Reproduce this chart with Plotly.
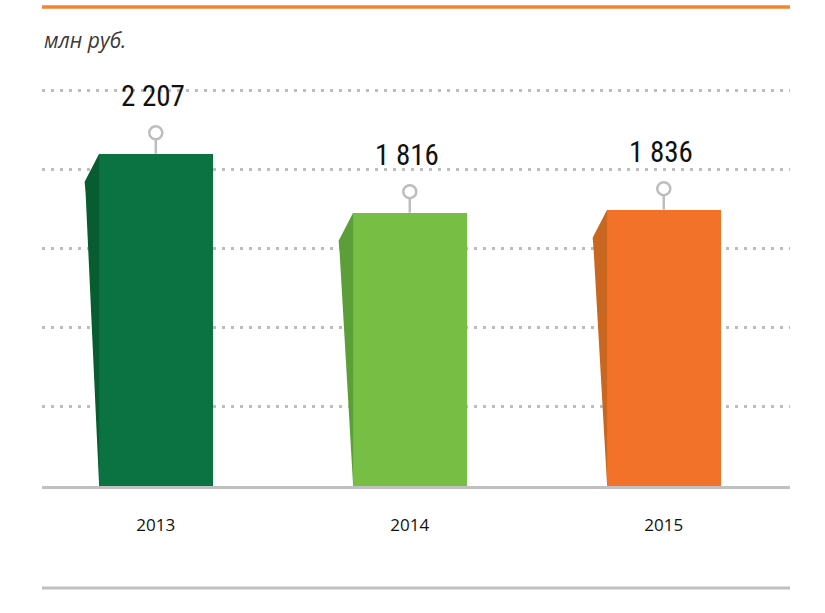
import plotly.graph_objects as go

# ---- data ----
years = ["2013", "2014", "2015"]
values = [2207, 1816, 1836]
value_labels = ["2 207", "1 816", "1 836"]
front_colors = ["#0b7341", "#76bf44", "#f2722a"]
side_colors = ["#075c30", "#5c9f38", "#c9661f"]
unit_label = "млн руб."

# ---- layout geometry ----
W, H = 825, 613
PLOT_LEFT, PLOT_RIGHT, PLOT_TOP, PLOT_BOTTOM = 42, 790, 60, 486   # page pixels
M_L = PLOT_LEFT
M_T = PLOT_TOP
M_R = W - PLOT_RIGHT
M_B = H - PLOT_BOTTOM
plot_w = PLOT_RIGHT - PLOT_LEFT
plot_h = PLOT_BOTTOM - PLOT_TOP
X_RANGE = [-0.448, 2.497]
Y_MAX = 2830
GRID_STEP = 525
BAR_W = 0.45
px_x = plot_w / (X_RANGE[1] - X_RANGE[0])   # px per x unit
px_y = plot_h / Y_MAX                        # px per y unit


def paper_y(py):
    return (PLOT_BOTTOM - py) / plot_h


xs = list(range(len(years)))
fig = go.Figure()

# left slanted side faces
for i, v in enumerate(values):
    xl = xs[i] - BAR_W / 2
    fig.add_trace(go.Scatter(
        x=[xl + 0.5 / px_x, xl - 14 / px_x, xl - 13 / px_x, xl + 0.5 / px_x],
        y=[v, v - 28 / px_y, v - 40 / px_y, 0],
        fill="toself", fillcolor=side_colors[i], mode="lines",
        line=dict(width=0, color=side_colors[i]), hoverinfo="skip", showlegend=False))

# front faces
fig.add_trace(go.Bar(x=xs, y=values, width=BAR_W, marker=dict(color=front_colors, line=dict(width=0)),
                     showlegend=False, hoverinfo="skip"))

# stems
sx, sy = [], []
for i, v in enumerate(values):
    sx += [xs[i], xs[i], None]
    sy += [v, v + 15 / px_y, None]
fig.add_trace(go.Scatter(x=sx, y=sy, mode="lines", line=dict(color="#bdbdbd", width=2.5),
                         hoverinfo="skip", showlegend=False))
# circles
fig.add_trace(go.Scatter(x=xs, y=[v + 21 / px_y for v in values], mode="markers",
                         marker=dict(size=13, color="white", line=dict(color="#bdbdbd", width=2.5)),
                         hoverinfo="skip", showlegend=False))

annotations = []
for i, v in enumerate(values):
    annotations.append(dict(x=xs[i] - 0.012, y=v, xref="x", yref="y", yshift=58, text=value_labels[i],
                            showarrow=False, yanchor="middle",
                            font=dict(family="Roboto Condensed, sans-serif", size=29, color="#111111")))
annotations.append(dict(x=0, y=paper_y(40), xref="paper", yref="paper",
                        text="<i>" + unit_label + "</i>", showarrow=False, xanchor="left", yanchor="middle",
                        font=dict(family="Open Sans, sans-serif", size=21, color="#3a3a3a")))

shapes = [
    dict(type="line", xref="paper", yref="paper", x0=0, x1=1, y0=paper_y(7), y1=paper_y(7),
         line=dict(color="#f0852c", width=3.5)),
    dict(type="line", xref="paper", yref="paper", x0=0, x1=1, y0=paper_y(588), y1=paper_y(588),
         line=dict(color="#c0c0c0", width=3)),
]

fig.update_layout(
    width=W, height=H, margin=dict(l=M_L, r=M_R, t=M_T, b=M_B),
    paper_bgcolor="white", plot_bgcolor="white",
    bargap=0, annotations=annotations, shapes=shapes,
    xaxis=dict(range=X_RANGE, tickvals=xs, ticktext=years, showgrid=False, zeroline=False,
               showline=True, linecolor="#c0c0c0", linewidth=3, ticks="", ticklabelstandoff=22,
               tickfont=dict(family="Open Sans, sans-serif", size=17, color="#111111"), fixedrange=True),
    yaxis=dict(range=[0, Y_MAX], tick0=0, dtick=GRID_STEP, showgrid=True, gridcolor="#bdbdbd",
               gridwidth=2.5, griddash="2.5px,6.5px", zeroline=False, showticklabels=False,
               showline=False, fixedrange=True),
)

fig.write_html("out.html", config={"displayModeBar": False},
               post_script="document.body.style.margin='0';")
